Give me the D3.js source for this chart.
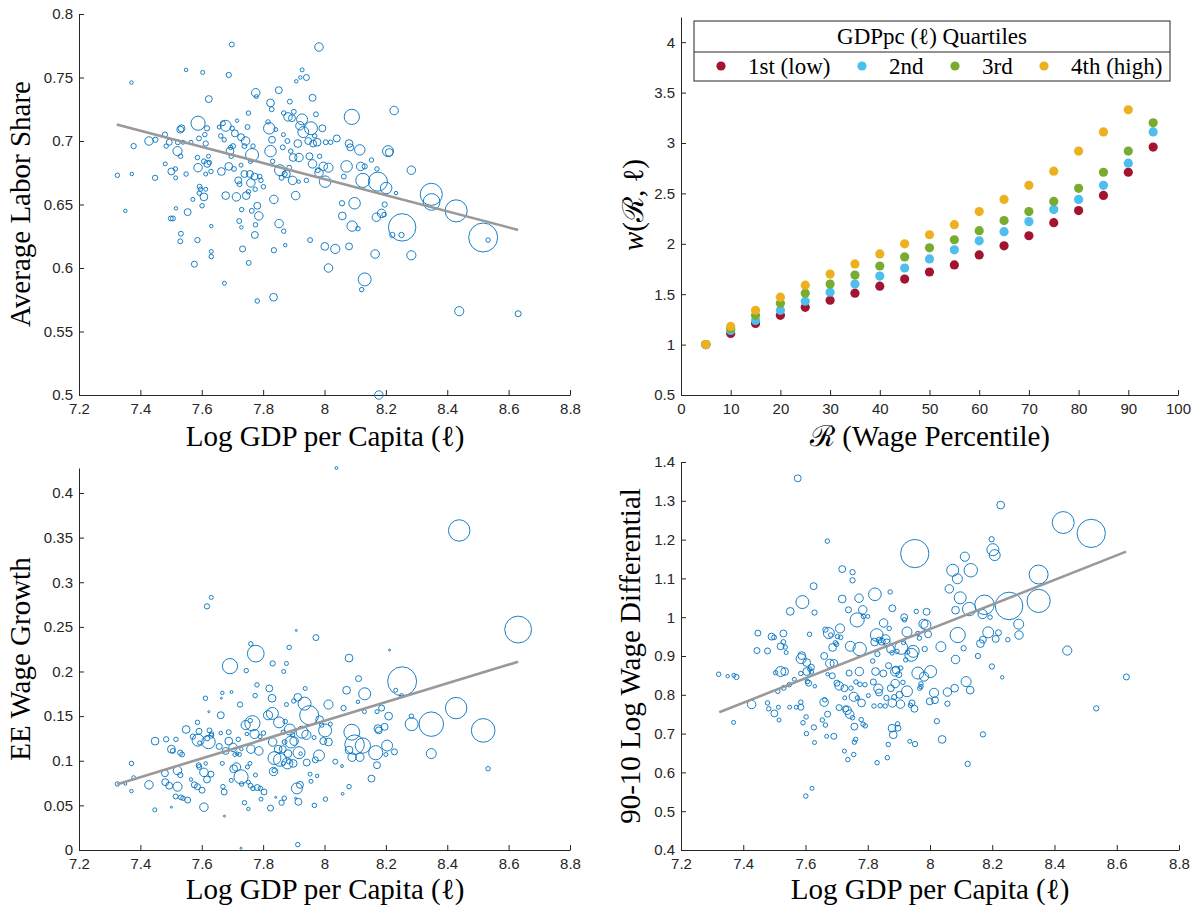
<!DOCTYPE html>
<meta charset="utf-8">
<script src="https://d3js.org/d3.v7.min.js"></script>
<style>
  body { margin: 0; background: #fff; }
  .tick text { font-family: "Liberation Sans", Arial, sans-serif; font-size: 15px; fill: #262626; }
  .domain, .tick line { stroke: #262626; }
  .title { font-family: "Liberation Serif", "DejaVu Serif", serif; font-size: 29px; fill: #000; }
</style>
<body>
<script>

// ---- data ----

// top-left: [log GDP pc, average labor share, weight]
var laborPts = [[7.325,0.673,5],[7.351,0.645,3],[7.371,0.746,3],[7.372,0.674,3],[7.378,0.696,7],[7.428,0.700,18],[7.448,0.671,7],[7.449,0.701,7],[7.480,0.705,7],[7.481,0.682,4],[7.484,0.696,5],[7.494,0.699,9],[7.501,0.676,12],[7.499,0.639,6],[7.506,0.639,6],[7.514,0.678,5],[7.515,0.671,4],[7.516,0.647,3],[7.521,0.692,21],[7.522,0.699,6],[7.530,0.709,12],[7.534,0.710,12],[7.531,0.688,5],[7.532,0.627,6],[7.530,0.621,6],[7.539,0.699,4],[7.549,0.756,3],[7.549,0.674,5],[7.554,0.644,12],[7.565,0.699,4],[7.571,0.654,4],[7.576,0.603,9],[7.586,0.622,7],[7.586,0.687,5],[7.588,0.679,18],[7.588,0.714,50],[7.591,0.702,6],[7.592,0.659,5],[7.593,0.664,6],[7.596,0.662,5],[7.601,0.649,5],[7.603,0.754,4],[7.607,0.656,15],[7.607,0.684,6],[7.610,0.705,5],[7.613,0.698,7],[7.613,0.674,4],[7.613,0.662,4],[7.617,0.710,7],[7.618,0.682,12],[7.622,0.688,4],[7.623,0.733,12],[7.625,0.683,5],[7.630,0.676,5],[7.631,0.633,3],[7.631,0.613,4],[7.631,0.609,5],[7.657,0.711,4],[7.662,0.704,5],[7.664,0.676,15],[7.669,0.714,6],[7.673,0.701,5],[7.674,0.588,4],[7.678,0.712,30],[7.678,0.657,15],[7.688,0.752,7],[7.688,0.680,15],[7.692,0.692,15],[7.694,0.695,5],[7.696,0.688,5],[7.698,0.776,6],[7.699,0.710,5],[7.702,0.696,6],[7.705,0.678,6],[7.708,0.706,12],[7.713,0.656,18],[7.715,0.716,3],[7.719,0.669,12],[7.722,0.637,6],[7.723,0.666,6],[7.728,0.703,12],[7.728,0.681,4],[7.729,0.632,3],[7.730,0.646,5],[7.733,0.615,9],[7.739,0.674,12],[7.739,0.696,6],[7.743,0.700,18],[7.745,0.657,15],[7.749,0.711,6],[7.752,0.722,5],[7.752,0.660,5],[7.753,0.604,6],[7.757,0.674,12],[7.759,0.684,5],[7.760,0.667,18],[7.764,0.689,42],[7.763,0.645,6],[7.767,0.696,5],[7.772,0.672,12],[7.773,0.626,12],[7.774,0.662,5],[7.776,0.738,18],[7.775,0.634,5],[7.778,0.735,4],[7.781,0.574,5],[7.781,0.649,12],[7.786,0.641,18],[7.789,0.672,5],[7.793,0.669,5],[7.801,0.664,5],[7.816,0.715,5],[7.820,0.710,33],[7.824,0.692,33],[7.824,0.730,15],[7.828,0.725,6],[7.829,0.701,12],[7.831,0.684,5],[7.834,0.577,15],[7.835,0.654,18],[7.835,0.614,7],[7.841,0.709,4],[7.851,0.740,12],[7.852,0.635,18],[7.855,0.677,30],[7.860,0.671,6],[7.864,0.695,6],[7.866,0.705,4],[7.867,0.629,5],[7.867,0.722,5],[7.870,0.674,7],[7.872,0.618,3],[7.876,0.674,15],[7.879,0.700,6],[7.881,0.719,18],[7.885,0.679,6],[7.887,0.731,6],[7.890,0.692,5],[7.894,0.718,12],[7.896,0.669,18],[7.898,0.687,15],[7.900,0.723,6],[7.908,0.747,3],[7.906,0.657,18],[7.913,0.698,15],[7.916,0.668,3],[7.917,0.687,18],[7.920,0.712,18],[7.921,0.750,3],[7.927,0.756,4],[7.927,0.717,30],[7.931,0.707,30],[7.941,0.750,9],[7.941,0.669,5],[7.947,0.700,12],[7.951,0.688,12],[7.953,0.622,6],[7.956,0.710,42],[7.961,0.682,18],[7.961,0.734,12],[7.963,0.698,12],[7.968,0.704,5],[7.972,0.721,6],[7.976,0.699,15],[7.978,0.677,6],[7.982,0.774,18],[7.982,0.675,18],[7.984,0.688,5],[7.993,0.710,12],[7.996,0.680,18],[8.001,0.617,15],[8.002,0.668,33],[8.004,0.699,6],[8.013,0.679,21],[8.013,0.600,18],[8.020,0.699,5],[8.035,0.615,21],[8.040,0.702,12],[8.057,0.651,7],[8.058,0.641,15],[8.063,0.672,6],[8.072,0.680,33],[8.080,0.617,12],[8.080,0.698,15],[8.084,0.695,12],[8.089,0.719,58],[8.090,0.633,27],[8.098,0.651,33],[8.109,0.631,5],[8.115,0.693,27],[8.118,0.680,18],[8.125,0.669,50],[8.131,0.591,42],[8.131,0.680,7],[8.121,0.583,5],[8.153,0.685,5],[8.165,0.611,18],[8.169,0.640,18],[8.171,0.678,5],[8.174,0.668,91],[8.177,0.500,18],[8.186,0.643,18],[8.194,0.642,5],[8.196,0.650,7],[8.201,0.663,33],[8.207,0.692,30],[8.211,0.691,15],[8.221,0.626,7],[8.227,0.724,18],[8.233,0.659,3],[8.251,0.626,7],[8.253,0.632,188],[8.283,0.677,18],[8.283,0.610,21],[8.348,0.658,122],[8.349,0.652,70],[8.429,0.645,122],[8.439,0.566,21],[8.517,0.624,210],[8.533,0.622,5],[8.631,0.564,9]];
var laborFit = [[7.323, 0.713], [8.631, 0.630]];

// bottom-left: [log GDP pc, EE wage growth, weight]
var eePts = [[7.325,0.074,5],[7.351,0.074,2],[7.371,0.097,5],[7.371,0.066,3],[7.378,0.081,4],[7.428,0.073,18],[7.448,0.122,15],[7.447,0.045,4],[7.480,0.086,12],[7.481,0.076,12],[7.484,0.124,7],[7.494,0.072,12],[7.501,0.113,15],[7.501,0.048,1],[7.506,0.111,6],[7.515,0.060,6],[7.516,0.124,5],[7.521,0.089,18],[7.521,0.071,21],[7.530,0.109,7],[7.530,0.084,7],[7.532,0.059,6],[7.536,0.107,6],[7.539,0.058,5],[7.549,0.135,15],[7.554,0.056,9],[7.565,0.079,3],[7.571,0.127,7],[7.576,0.073,9],[7.586,0.143,5],[7.586,0.071,9],[7.588,0.123,36],[7.590,0.095,6],[7.591,0.133,9],[7.592,0.093,6],[7.593,0.120,4],[7.601,0.067,9],[7.607,0.048,18],[7.607,0.087,18],[7.612,0.170,5],[7.613,0.097,3],[7.617,0.079,12],[7.618,0.125,6],[7.622,0.121,45],[7.623,0.155,1],[7.625,0.134,6],[7.630,0.085,9],[7.631,0.128,6],[7.631,0.283,4],[7.617,0.273,7],[7.632,0.130,5],[7.657,0.116,9],[7.662,0.151,12],[7.662,0.131,3],[7.664,0.170,1],[7.667,0.176,3],[7.667,0.097,4],[7.669,0.071,5],[7.673,0.065,9],[7.674,0.038,1],[7.678,0.111,12],[7.688,0.132,6],[7.688,0.122,15],[7.692,0.206,58],[7.696,0.078,4],[7.697,0.177,2],[7.702,0.115,18],[7.704,0.091,15],[7.708,0.107,4],[7.713,0.093,18],[7.715,0.108,3],[7.719,0.124,5],[7.723,0.107,4],[7.725,0.163,7],[7.728,0.082,50],[7.728,0.002,1],[7.729,0.113,3],[7.730,0.074,5],[7.739,0.053,5],[7.743,0.140,21],[7.745,0.201,5],[7.747,0.130,3],[7.749,0.093,4],[7.752,0.076,4],[7.752,0.046,3],[7.757,0.097,4],[7.758,0.145,5],[7.759,0.072,6],[7.760,0.113,18],[7.760,0.231,5],[7.765,0.142,58],[7.767,0.069,5],[7.772,0.130,21],[7.774,0.173,5],[7.775,0.084,4],[7.776,0.220,70],[7.780,0.185,5],[7.781,0.070,9],[7.786,0.111,18],[7.790,0.127,4],[7.791,0.069,5],[7.793,0.057,4],[7.801,0.131,5],[7.803,0.065,9],[7.816,0.151,21],[7.820,0.181,12],[7.824,0.047,9],[7.829,0.170,15],[7.830,0.153,36],[7.831,0.209,7],[7.831,0.121,18],[7.834,0.088,18],[7.836,0.089,5],[7.837,0.103,42],[7.841,0.059,1],[7.849,0.113,15],[7.852,0.143,30],[7.855,0.101,42],[7.860,0.053,7],[7.864,0.113,12],[7.866,0.132,5],[7.866,0.097,4],[7.867,0.200,4],[7.869,0.058,5],[7.870,0.121,6],[7.872,0.144,5],[7.876,0.209,4],[7.876,0.163,4],[7.879,0.097,30],[7.881,0.108,15],[7.884,0.099,5],[7.885,0.227,5],[7.887,0.135,30],[7.891,0.121,36],[7.896,0.129,5],[7.898,0.097,15],[7.900,0.167,5],[7.901,0.122,18],[7.906,0.058,1],[7.908,0.246,1],[7.910,0.069,30],[7.913,0.006,5],[7.913,0.171,15],[7.915,0.054,12],[7.917,0.109,36],[7.920,0.073,12],[7.922,0.108,3],[7.927,0.132,36],[7.935,0.164,42],[7.937,0.181,4],[7.941,0.129,21],[7.942,0.098,12],[7.950,0.151,90],[7.953,0.085,4],[7.956,0.077,4],[7.966,0.126,4],[7.967,0.050,5],[7.970,0.101,9],[7.972,0.238,9],[7.976,0.083,3],[7.982,0.106,30],[7.984,0.146,15],[7.991,0.140,5],[7.996,0.122,12],[8.002,0.134,42],[8.003,0.057,5],[8.013,0.163,21],[8.013,0.121,15],[8.019,0.141,4],[8.035,0.099,6],[8.057,0.094,2],[8.059,0.063,2],[8.062,0.159,7],[8.072,0.179,15],[8.080,0.215,15],[8.080,0.112,15],[8.080,0.071,5],[8.089,0.132,63],[8.090,0.104,18],[8.098,0.118,95],[8.109,0.166,3],[8.111,0.192,9],[8.115,0.104,18],[8.125,0.117,58],[8.130,0.155,4],[8.131,0.175,36],[8.153,0.080,12],[8.167,0.109,50],[8.171,0.095,12],[8.174,0.136,15],[8.171,0.155,4],[8.177,0.134,12],[8.186,0.159,9],[8.196,0.138,12],[8.200,0.107,4],[8.204,0.117,30],[8.209,0.150,15],[8.212,0.224,1],[8.228,0.110,9],[8.232,0.179,4],[8.251,0.173,4],[8.253,0.189,210],[8.283,0.150,5],[8.284,0.141,42],[8.348,0.141,150],[8.348,0.108,25],[8.429,0.159,115],[8.439,0.358,115],[8.517,0.134,140],[8.533,0.091,5],[8.631,0.247,180],[8.039,0.428,2]];
var eeFit = [[7.325, 0.0737], [8.631, 0.211]];

// bottom-right: [log GDP pc, 90-10 log wage differential, weight]
var diffPts = [[7.321,0.853,5],[7.350,0.848,3],[7.369,0.729,4],[7.370,0.850,4],[7.378,0.846,7],[7.427,0.775,18],[7.444,0.914,9],[7.447,0.959,9],[7.478,0.913,9],[7.478,0.779,5],[7.482,0.764,5],[7.491,0.950,12],[7.499,0.948,6],[7.500,0.752,12],[7.504,0.857,5],[7.511,0.809,5],[7.513,0.768,4],[7.515,0.735,4],[7.520,0.860,25],[7.520,0.925,12],[7.529,0.958,12],[7.529,0.936,6],[7.533,0.860,15],[7.535,0.923,5],[7.530,0.818,6],[7.538,0.909,4],[7.548,0.826,5],[7.551,1.015,15],[7.549,0.768,4],[7.564,0.840,4],[7.570,0.768,4],[7.575,1.358,12],[7.585,0.855,5],[7.586,0.893,25],[7.588,0.901,15],[7.585,0.768,9],[7.585,0.781,5],[7.590,1.039,42],[7.592,0.728,5],[7.601,0.539,5],[7.603,0.700,5],[7.602,0.743,5],[7.604,0.860,15],[7.604,0.883,15],[7.606,0.834,5],[7.610,0.830,9],[7.613,0.956,5],[7.614,0.866,5],[7.619,0.871,9],[7.619,0.859,5],[7.621,0.559,4],[7.626,1.080,12],[7.627,0.716,7],[7.629,0.677,4],[7.629,1.012,7],[7.630,0.822,3],[7.654,0.735,5],[7.660,0.900,12],[7.660,0.781,18],[7.662,0.787,5],[7.664,0.722,5],[7.664,0.968,7],[7.668,0.693,4],[7.670,1.196,5],[7.671,0.750,9],[7.671,0.853,3],[7.675,0.959,30],[7.678,0.881,18],[7.681,0.954,5],[7.686,0.849,9],[7.687,0.922,15],[7.691,0.693,9],[7.691,0.881,15],[7.696,0.934,5],[7.700,0.930,5],[7.701,0.830,9],[7.703,0.950,5],[7.708,0.823,18],[7.711,0.971,21],[7.708,0.767,9],[7.713,0.948,5],[7.718,1.124,12],[7.718,1.047,15],[7.725,0.817,12],[7.725,0.655,4],[7.726,0.792,4],[7.729,0.764,9],[7.734,0.760,18],[7.736,0.633,5],[7.738,1.019,9],[7.740,0.856,9],[7.742,0.750,18],[7.744,0.925,25],[7.746,0.817,5],[7.751,0.741,5],[7.751,1.116,7],[7.751,1.095,7],[7.755,0.795,21],[7.755,0.646,5],[7.757,0.678,5],[7.757,0.718,12],[7.761,0.685,5],[7.762,0.833,5],[7.767,0.792,5],[7.766,0.993,50],[7.772,1.049,18],[7.773,0.860,18],[7.774,0.918,45],[7.775,0.827,5],[7.779,0.736,5],[7.780,0.779,15],[7.784,1.019,18],[7.785,0.724,5],[7.786,1.002,5],[7.791,0.826,5],[7.792,0.720,5],[7.800,1.002,4],[7.802,0.798,4],[7.816,0.887,5],[7.818,0.833,9],[7.820,0.771,5],[7.822,0.936,15],[7.823,1.059,40],[7.825,0.860,15],[7.829,0.954,40],[7.830,0.625,5],[7.831,0.905,7],[7.834,0.816,21],[7.836,0.806,12],[7.837,0.941,9],[7.840,0.772,5],[7.845,0.937,12],[7.850,0.855,12],[7.851,0.985,18],[7.856,0.771,5],[7.857,0.943,21],[7.860,0.792,7],[7.861,0.935,12],[7.863,0.638,5],[7.866,0.672,5],[7.867,0.875,9],[7.869,0.971,5],[7.872,1.065,5],[7.873,0.918,15],[7.874,0.817,12],[7.878,0.908,5],[7.878,0.714,15],[7.879,0.779,18],[7.879,1.023,12],[7.882,0.697,15],[7.885,0.794,7],[7.888,0.829,18],[7.888,0.860,21],[7.891,0.864,15],[7.894,0.912,5],[7.896,0.725,5],[7.897,0.714,9],[7.900,0.852,9],[7.902,0.800,12],[7.905,0.776,18],[7.906,0.869,5],[7.908,0.921,42],[7.913,0.832,5],[7.915,0.935,5],[7.917,1.000,12],[7.918,0.993,5],[7.922,0.890,5],[7.926,0.809,30],[7.926,0.962,25],[7.928,0.910,5],[7.935,0.680,4],[7.937,0.773,5],[7.940,0.903,42],[7.942,0.779,9],[7.946,0.912,36],[7.950,0.764,12],[7.951,1.164,200],[7.952,0.673,7],[7.956,1.015,5],[7.961,0.958,5],[7.961,0.856,36],[7.966,0.946,5],[7.967,0.817,5],[7.971,0.821,5],[7.971,0.828,5],[7.979,0.983,21],[7.981,0.847,21],[7.983,0.918,7],[7.987,0.980,25],[7.989,1.014,12],[7.994,0.956,12],[7.999,0.783,12],[8.002,0.860,36],[8.013,0.805,21],[8.016,0.786,12],[8.022,0.732,7],[8.035,0.924,25],[8.039,0.685,15],[8.056,0.807,18],[8.056,0.777,7],[8.062,1.073,18],[8.073,1.121,36],[8.079,0.817,15],[8.082,0.891,18],[8.082,1.018,15],[8.088,1.099,25],[8.089,0.954,58],[8.097,1.050,36],[8.108,0.920,7],[8.112,1.156,21],[8.116,0.834,25],[8.121,0.622,7],[8.126,1.021,45],[8.129,0.812,15],[8.131,1.121,45],[8.154,0.900,7],[8.162,0.932,15],[8.169,1.008,21],[8.170,0.942,12],[8.170,0.698,7],[8.175,1.032,95],[8.193,1.000,5],[8.199,0.873,7],[8.198,1.201,7],[8.202,1.174,36],[8.208,1.160,30],[8.211,0.944,12],[8.220,0.960,9],[8.187,0.961,30],[8.232,0.845,3],[8.227,1.289,15],[8.250,0.942,5],[8.254,1.029,190],[8.285,0.982,25],[8.286,0.954,18],[8.349,1.110,90],[8.349,1.042,135],[8.428,1.244,120],[8.441,0.914,21],[8.518,1.216,200],[8.534,0.765,7],[8.631,0.846,9]];
var diffFit = [[7.323, 0.755], [8.630, 1.169]];

// top-right: wage percentile and w(R, l) by GDPpc quartile
var pctl = [5, 10, 15, 20, 25, 30, 35, 40, 45, 50, 55, 60, 65, 70, 75, 80, 85, 90, 95];
var q1 = [1.00, 1.11, 1.21, 1.29, 1.37, 1.44, 1.51, 1.58, 1.65, 1.72, 1.79, 1.89, 1.98, 2.08, 2.21, 2.33, 2.48, 2.71, 2.96];
var q2 = [1.00, 1.14, 1.24, 1.34, 1.43, 1.52, 1.60, 1.68, 1.76, 1.85, 1.94, 2.03, 2.12, 2.22, 2.34, 2.44, 2.58, 2.80, 3.11];
var q3 = [1.00, 1.16, 1.29, 1.41, 1.51, 1.60, 1.69, 1.78, 1.87, 1.96, 2.04, 2.13, 2.23, 2.32, 2.42, 2.55, 2.71, 2.92, 3.20];
var q4 = [1.00, 1.18, 1.34, 1.47, 1.59, 1.70, 1.80, 1.90, 2.00, 2.09, 2.19, 2.32, 2.44, 2.58, 2.72, 2.92, 3.11, 3.33, null];
var quartNames = ["1st (low)", "2nd", "3rd", "4th (high)"];
var quartColors = ["#A2142F", "#4DBEEE", "#77AC30", "#EDB120"];

// tick values
var gdpTicks = [7.2, 7.4, 7.6, 7.8, 8, 8.2, 8.4, 8.6, 8.8];
var laborTicks = [0.5, 0.55, 0.6, 0.65, 0.7, 0.75, 0.8];
var eeTicks = [0, 0.05, 0.1, 0.15, 0.2, 0.25, 0.3, 0.35, 0.4];
var diffTicks = [0.4, 0.5, 0.6, 0.7, 0.8, 0.9, 1, 1.1, 1.2, 1.3, 1.4];
var pctlTicks = [0, 10, 20, 30, 40, 50, 60, 70, 80, 90, 100];
var wTicks = [0.5, 1, 1.5, 2, 2.5, 3, 3.5, 4];

// ---- drawing ----
var svg = d3.select("body").append("svg")
  .attr("width", 1197)
  .attr("height", 907);

var fmt = function(d) { return String(+d.toFixed(2)); };
var rScale = d3.scaleSqrt().domain([0, 225]).range([0, 15]);

function axes(x, y, xt, yt) {
  svg.append("g")
    .attr("transform", "translate(0," + y.range()[0] + ")")
    .call(d3.axisBottom(x).tickValues(xt).tickFormat(fmt).tickSizeInner(-5).tickSizeOuter(0).tickPadding(8));
  svg.append("g")
    .attr("transform", "translate(" + x.range()[0] + ",0)")
    .call(d3.axisLeft(y).tickValues(yt).tickFormat(fmt).tickSizeInner(-5).tickSizeOuter(0).tickPadding(6));
  svg.selectAll(".domain, .tick line").attr("stroke-width", 1);
}

function title(txt, x, y, rot) {
  var t = svg.append("text")
    .attr("class", "title")
    .attr("text-anchor", "middle")
    .attr("transform", "translate(" + x + "," + y + ")" + (rot ? " rotate(-90)" : ""));
  txt.forEach(function(p) {
    t.append("tspan").attr("font-style", p[1] ? "italic" : null).text(p[0]);
  });
}

function bubbles(pts, fit, x, y) {
  svg.append("g").selectAll("circle")
    .data(pts)
    .enter()
    .append("circle")
    .attr("cx", function(d) { return x(d[0]); })
    .attr("cy", function(d) { return y(d[1]); })
    .attr("r", function(d) { return rScale(d[2]); })
    .attr("fill", "none")
    .attr("stroke", "#0072BD")
    .attr("stroke-width", 0.9);
  svg.append("path")
    .datum(fit)
    .attr("d", d3.line().x(function(d) { return x(d[0]); }).y(function(d) { return y(d[1]); }))
    .attr("stroke", "#999999")
    .attr("stroke-width", 2.6)
    .attr("fill", "none");
}

var gdpLabel = [["Log GDP per Capita (ℓ)", false]];

// top-left
var x1 = d3.scaleLinear().domain([7.2, 8.8]).range([79, 570]);
var y1 = d3.scaleLinear().domain([0.5, 0.8]).range([395, 14]);
axes(x1, y1, gdpTicks, laborTicks);
bubbles(laborPts, laborFit, x1, y1);
title(gdpLabel, 325, 446);
title([["Average Labor Share", false]], 30, 204, true);

// top-right
var x2 = d3.scaleLinear().domain([0, 100]).range([681, 1178]);
var y2 = d3.scaleLinear().domain([0.5, 4.25]).range([395, 17]);
axes(x2, y2, pctlTicks, wTicks);
[q1, q2, q3, q4].forEach(function(series, k) {
  svg.append("g").selectAll("circle")
    .data(series.map(function(v, i) { return [pctl[i], v]; }).filter(function(d) { return d[1] != null; }))
    .enter()
    .append("circle")
    .attr("cx", function(d) { return x2(d[0]); })
    .attr("cy", function(d) { return y2(d[1]); })
    .attr("r", 4.6)
    .attr("fill", quartColors[k]);
});
title([["ℛ", false], [" (Wage Percentile)", false]], 930, 446);
title([["w", true], ["(ℛ, ℓ)", false]], 643, 205, true);

// legend
var leg = svg.append("g");
leg.append("rect").attr("x", 694).attr("y", 21).attr("width", 476).attr("height", 60)
  .attr("fill", "#fff").attr("stroke", "#262626").attr("stroke-width", 1);
leg.append("line").attr("x1", 694).attr("x2", 1170).attr("y1", 52).attr("y2", 52)
  .attr("stroke", "#262626").attr("stroke-width", 1);
leg.append("text").attr("class", "title").style("font-size", "23px")
  .attr("x", 932).attr("y", 44).attr("text-anchor", "middle").text("GDPpc (ℓ) Quartiles");
var legX = [721, 862, 955, 1044];
quartNames.forEach(function(n, k) {
  leg.append("circle").attr("cx", legX[k]).attr("cy", 66).attr("r", 4.6).attr("fill", quartColors[k]);
  leg.append("text").attr("class", "title").style("font-size", "23px")
    .attr("x", legX[k] + 27).attr("y", 74).text(n);
});

// bottom-left
var x3 = d3.scaleLinear().domain([7.2, 8.8]).range([79, 570]);
var y3 = d3.scaleLinear().domain([0, 0.428]).range([850, 468]);
axes(x3, y3, gdpTicks, eeTicks);
bubbles(eePts, eeFit, x3, y3);
title(gdpLabel, 325, 899);
title([["EE Wage Growth", false]], 30, 659, true);

// bottom-right
var x4 = d3.scaleLinear().domain([7.2, 8.8]).range([681, 1179]);
var y4 = d3.scaleLinear().domain([0.4, 1.4]).range([850, 462]);
axes(x4, y4, gdpTicks, diffTicks);
bubbles(diffPts, diffFit, x4, y4);
title(gdpLabel, 930, 899);
title([["90-10 Log Wage Differential", false]], 640, 656, true);

</script>
</body>
